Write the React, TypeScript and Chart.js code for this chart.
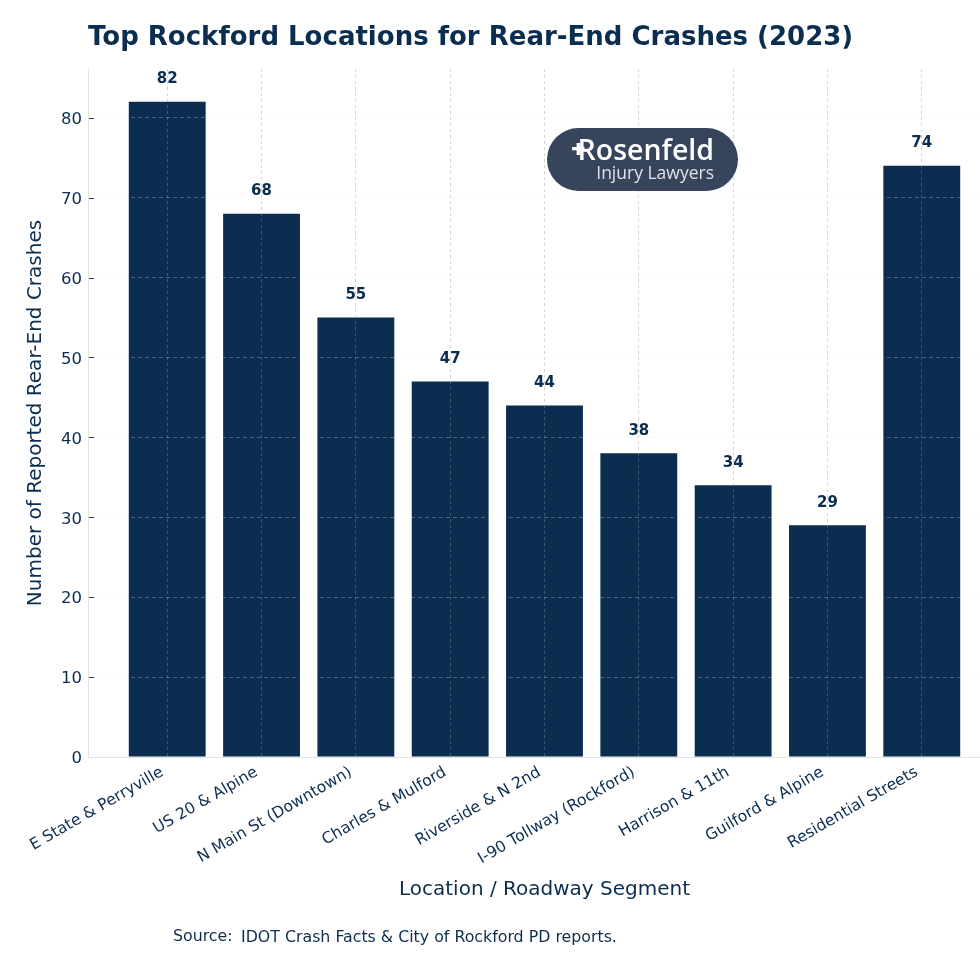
import React, { useEffect, useRef } from 'react';
import { Chart, registerables } from 'chart.js';

Chart.register(...registerables);

const locations = [
  'E State & Perryville',
  'US 20 & Alpine',
  'N Main St (Downtown)',
  'Charles & Mulford',
  'Riverside & N 2nd',
  'I-90 Tollway (Rockford)',
  'Harrison & 11th',
  'Guilford & Alpine',
  'Residential Streets',
];
const crashes = [82, 68, 55, 47, 44, 38, 34, 29, 74];
const yTicks = [0, 10, 20, 30, 40, 50, 60, 70, 80];

const NAVY = '#0b2d4f';
const FONT = '"DejaVu Sans", sans-serif';

const valueLabels = {
  id: 'valueLabels',
  afterDraw(chart: any) {
    const { ctx } = chart;
    ctx.save();
    ctx.font = `bold 15px ${FONT}`;
    ctx.fillStyle = NAVY;
    ctx.textAlign = 'center';
    ctx.textBaseline = 'alphabetic';
    chart.getDatasetMeta(0).data.forEach((bar: any, i: number) => {
      ctx.fillText(String(crashes[i]), bar.x, bar.y - 18.5);
    });
    ctx.restore();
  },
};

// short marks just inside the left spine, the reference has them there and not outside
const innerTicks = {
  id: 'innerTicks',
  afterDraw(chart: any) {
    const { ctx, chartArea, scales } = chart;
    ctx.save();
    ctx.strokeStyle = '#2a3f55';
    ctx.lineWidth = 1;
    yTicks.filter((v) => v > 0).forEach((v) => {
      const y = Math.round(scales.y.getPixelForValue(v)) + 0.5;
      ctx.beginPath();
      ctx.moveTo(chartArea.left + 1, y);
      ctx.lineTo(chartArea.left + 6, y);
      ctx.stroke();
    });
    ctx.restore();
  },
};

const App = () => {
  const chartRef = useRef<HTMLCanvasElement>(null);

  useEffect(() => {
    const chart = new Chart(chartRef.current as HTMLCanvasElement, {
      type: 'bar',
      data: {
        datasets: [
          {
            data: crashes.map((y, x) => ({ x, y })),
            backgroundColor: NAVY,
            categoryPercentage: 0.815,
            barPercentage: 1,
          },
        ],
      },
      plugins: [valueLabels, innerTicks],
      options: {
        animation: false,
        responsive: false,
        devicePixelRatio: 1,
        layout: { padding: 0 },
        plugins: {
          legend: { display: false },
          tooltip: { enabled: false },
          title: {
            display: true,
            text: 'Top Rockford Locations for Rear-End Crashes (2023)',
            align: 'start',
            fullSize: false,
            color: NAVY,
            font: { family: FONT, size: 26, weight: 'bold' },
            padding: { top: 22.5, bottom: 15.3 },
          },
        },
        scales: {
          x: {
            type: 'linear',
            min: -0.84,
            max: 8.84,
            offset: false,
            afterBuildTicks: (axis: any) => {
              axis.ticks = locations.map((_, value) => ({ value }));
            },
            afterFit: (axis: any) => {
              axis.height = 223;
            },
            grid: {
              z: 1,
              offset: false,
              color: 'rgba(150,150,150,0.4)',
              lineWidth: 1,
              drawTicks: false,
            },
            border: { color: '#e2e2e2', dash: [3, 3], z: 2 },
            ticks: {
              autoSkip: false,
              minRotation: 30,
              maxRotation: 30,
              padding: 6,
              labelOffset: -5,
              color: NAVY,
              font: { family: FONT, size: 15.7 },
              callback: (value: any) => locations[value],
            },
            title: {
              display: true,
              text: 'Location / Roadway Segment',
              color: NAVY,
              font: { family: FONT, size: 20 },
              padding: { top: 4, bottom: 78 },
            },
          },
          y: {
            min: 0,
            max: 86.1,
            afterBuildTicks: (axis: any) => {
              axis.ticks = yTicks.map((value) => ({ value }));
            },
            afterFit: (axis: any) => {
              axis.width = 88;
            },
            grid: {
              z: 1,
              color: 'rgba(230,232,235,0.3)',
              lineWidth: 1,
              drawTicks: false,
            },
            border: { color: '#e2e2e2', dash: [4, 3], z: 2 },
            ticks: {
              padding: 6,
              labelOffset: 2,
              color: NAVY,
              font: { family: FONT, size: 16.5 },
            },
            title: {
              display: true,
              text: 'Number of Reported Rear-End Crashes',
              color: NAVY,
              font: { family: FONT, size: 20 },
              padding: { top: 24, bottom: 4 },
            },
          },
        },
      },
    } as any);

    return () => chart.destroy();
  }, []);

  return (
    <div style={{ position: 'fixed', left: 0, top: 0, width: 980, height: 980, overflow: 'hidden', background: '#fff' }}>
      <canvas ref={chartRef} width={1001} height={980} style={{ display: 'block' }} />
      <div
        style={{
          position: 'absolute',
          left: 547,
          top: 128,
          width: 191,
          height: 63,
          borderRadius: 32,
          background: '#36445c',
          color: '#fff',
          fontFamily: '"Open Sans", sans-serif',
        }}
      >
        <div style={{ position: 'absolute', left: 24, top: 1, fontSize: 25, fontWeight: 800, lineHeight: '38px' }}>+</div>
        <div style={{ position: 'absolute', right: 24, top: 2, fontSize: 28.5, fontWeight: 600, lineHeight: '38px' }}>Rosenfeld</div>
        <div style={{ position: 'absolute', right: 24, top: 33, fontSize: 17.5, lineHeight: '22px', color: '#dfe3e8' }}>Injury Lawyers</div>
      </div>
      <div style={{ position: 'absolute', left: 173, top: 926, fontFamily: FONT, fontSize: 15.8, color: NAVY }}>Source:</div>
      <div style={{ position: 'absolute', left: 241, top: 927, fontFamily: FONT, fontSize: 15.8, color: NAVY }}>IDOT Crash Facts &amp; City of Rockford PD reports.</div>
    </div>
  );
};

export default App;
